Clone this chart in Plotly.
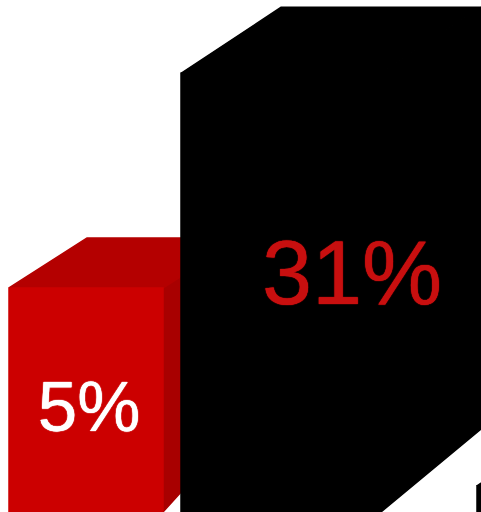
import numpy as np
import plotly.graph_objects as go

# Data
categories = ["A", "B", "C"]
values = [5, 31, 0.93]
labels = ["5%", "31%", ""]

# Bar look: front, top and side shades
front_colors = ["#cc0000", "#000000", "#000000"]
top_colors = ["#b40000", "#000000", "#000000"]
side_colors = ["#a80000", "#000000", "#000000"]
label_colors = ["#ffffff", "#c80f0f", "#ffffff"]
label_sizes = [71, 90, 12]

# Bar geometry in x-axis units; bars grow toward the viewer, so sizes differ
gaps = [9, 18, 96]
widths = [154, 200, 120]
depths_x = [78, 100, 100]
top_rise = [50, 66, 66]
base_rise = [86, 83, 83]

# Value axis is logarithmic and the bars stand on a common base
Y_RANGE = [-0.128, 1.762]
HEIGHT = 512
PX_PER_DECADE = HEIGHT / (Y_RANGE[1] - Y_RANGE[0])
BASE_VALUE = 0.745

# Label anchors, relative to each bar's left edge and in value units
label_dx = [80, 171, 0]
label_y = [1.725, 5.3, 0.8]


def lift(value, px):
    """Shift a value up the log axis by a distance given in plot pixels."""
    return value * 10 ** (px / PX_PER_DECADE)


lefts = np.cumsum(gaps) + np.concatenate(([0], np.cumsum(widths[:-1])))

fig = go.Figure()


def face(xs, ys, color, name):
    # A hairline in the face colour closes the seams between adjoining faces
    fig.add_trace(go.Scatter(
        x=xs, y=ys, mode="lines", fill="toself", fillcolor=color,
        line=dict(width=1.5, color=color), hoverinfo="skip",
        showlegend=False, name=name,
    ))


for i, cat in enumerate(categories):
    x0, w, dx = lefts[i], widths[i], depths_x[i]
    v = values[i]
    x1 = x0 + w
    base_back = lift(BASE_VALUE, base_rise[i])
    top_back = lift(v, top_rise[i])
    face([x1, x1 + dx, x1 + dx, x1, x1], [BASE_VALUE, base_back, top_back, v, BASE_VALUE],
         side_colors[i], f"{cat} side")
    face([x0, x0 + dx, x1 + dx, x1, x0], [v, top_back, top_back, v, v],
         top_colors[i], f"{cat} top")
    face([x0, x1, x1, x0, x0], [BASE_VALUE, BASE_VALUE, v, v, BASE_VALUE],
         front_colors[i], f"{cat} front")

for i, text in enumerate(labels):
    if text:
        c = label_colors[i]
        fig.add_trace(go.Scatter(
            x=[lefts[i] + label_dx[i]], y=[label_y[i]], mode="text", text=[text],
            textposition="middle center",
            textfont=dict(
                family="Liberation Sans", size=label_sizes[i], color=c,
                shadow=f"0 0 1px {c}, 0 0 1px {c}",
            ),
            hoverinfo="skip", showlegend=False,
        ))

fig.update_layout(
    width=481, height=HEIGHT,
    margin=dict(l=0, r=0, t=0, b=0),
    paper_bgcolor="#ffffff", plot_bgcolor="#ffffff",
    xaxis=dict(visible=False, range=[0, 481], fixedrange=True),
    yaxis=dict(visible=False, type="log", range=Y_RANGE, fixedrange=True),
)

fig.write_html("out.html")
